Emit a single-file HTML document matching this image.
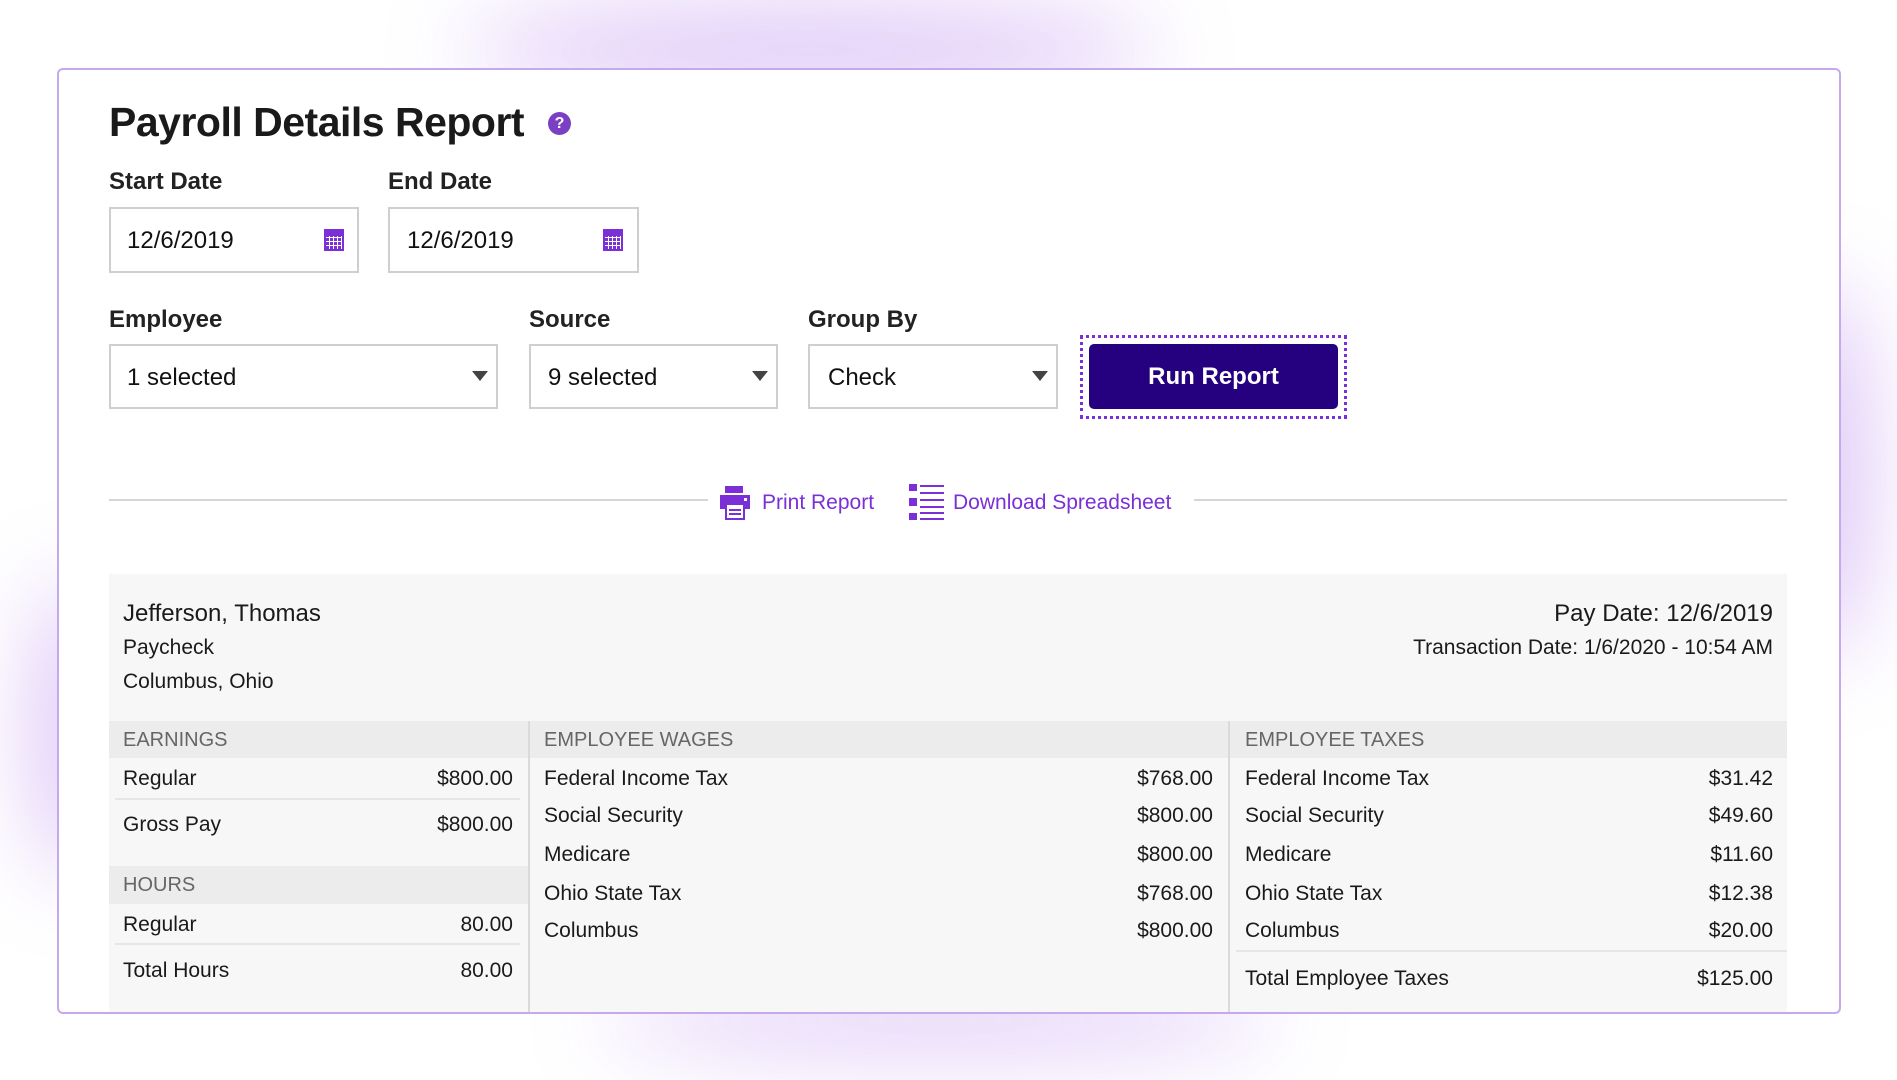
<!DOCTYPE html>
<html><head><meta charset="utf-8"><style>
*{margin:0;padding:0;box-sizing:border-box}
body{width:1897px;height:1080px;background:#fff;position:relative;overflow:hidden;font-family:"Liberation Sans",Arial,sans-serif;color:#1a1a1a}
.glow{position:absolute;border-radius:50%;filter:blur(45px);opacity:.75}
.card{position:absolute;left:57px;top:68px;width:1784px;height:946px;background:#fff;border:2px solid #c4a9ee;border-radius:6px;overflow:hidden}
.a{position:absolute;white-space:nowrap}
.box{position:absolute;border:2px solid #cfcfcf;background:#fff}
.lbl{font-weight:bold;font-size:24px;color:#222}
.val{font-size:24px;color:#111}
.tri{position:absolute;width:0;height:0;border-left:8px solid transparent;border-right:8px solid transparent;border-top:10px solid #444}
.cal{position:absolute;width:20px;height:22px;background:#7b2fd6}
.cal:after{content:"";position:absolute;left:2px;top:7px;width:16px;height:13px;background:repeating-linear-gradient(90deg,transparent 0 3px,#fff 3px 4px),repeating-linear-gradient(0deg,transparent 0 3px,#fff 3px 4px)}
.t{font-size:21px;color:#1a1a1a}
.h{font-size:20px;color:#666}
.r{text-align:right}
</style></head><body>
<div class="glow" style="left:460px;top:15px;width:700px;height:70px;background:#c9a3f2"></div>
<div class="glow" style="left:1780px;top:280px;width:80px;height:380px;background:#c9a3f2"></div>
<div class="glow" style="left:40px;top:580px;width:70px;height:300px;background:#c9a3f2"></div>
<div class="glow" style="left:600px;top:995px;width:680px;height:50px;background:#c9a3f2"></div>
<div class="card">
<div style="position:absolute;left:-59px;top:-70px;width:1897px;height:1080px">
<div class="a" style="left:109px;top:99px;font-size:41px;font-weight:bold;color:#1a1a1a;letter-spacing:-0.5px">Payroll Details Report</div>
<div class="a" style="left:548px;top:112px;width:23px;height:23px;border-radius:50%;background:#7b3fc4;color:#fff;font-size:16px;font-weight:bold;text-align:center;line-height:23px">?</div>

<div class="a lbl" style="left:109px;top:168px">Start Date</div>
<div class="a lbl" style="left:388px;top:168px">End Date</div>
<div class="box" style="left:109px;top:207px;width:250px;height:66px"></div>
<div class="a val" style="left:127px;top:227px">12/6/2019</div>
<div class="cal" style="left:324px;top:229px"></div>
<div class="box" style="left:388px;top:207px;width:251px;height:66px"></div>
<div class="a val" style="left:407px;top:227px">12/6/2019</div>
<div class="cal" style="left:603px;top:229px"></div>

<div class="a lbl" style="left:109px;top:306px">Employee</div>
<div class="a lbl" style="left:529px;top:306px">Source</div>
<div class="a lbl" style="left:808px;top:306px">Group By</div>
<div class="box" style="left:109px;top:344px;width:389px;height:65px"></div>
<div class="a val" style="left:127px;top:364px">1 selected</div>
<div class="tri" style="left:472px;top:371px"></div>
<div class="box" style="left:529px;top:344px;width:249px;height:65px"></div>
<div class="a val" style="left:548px;top:364px">9 selected</div>
<div class="tri" style="left:752px;top:371px"></div>
<div class="box" style="left:808px;top:344px;width:250px;height:65px"></div>
<div class="a val" style="left:828px;top:364px">Check</div>
<div class="tri" style="left:1032px;top:371px"></div>
<div class="a" style="left:1080px;top:335px;width:267px;height:84px;border:3px dotted #7b2fd6"></div>
<div class="a" style="left:1089px;top:344px;width:249px;height:65px;background:#25007f;border-radius:5px;color:#fff;font-weight:bold;font-size:24px;text-align:center;line-height:65px">Run Report</div>

<div class="a" style="left:109px;top:499px;width:599px;height:2px;background:#d6d6d6"></div>
<div class="a" style="left:1194px;top:499px;width:593px;height:2px;background:#d6d6d6"></div>
<svg class="a" style="left:719px;top:486px" width="32" height="34" viewBox="0 0 32 34"><rect x="6" y="0" width="18" height="7" fill="#7b2fd6"/><rect x="1" y="9" width="30" height="14" fill="#7b2fd6"/><rect x="25" y="12" width="3" height="3" fill="#fff"/><rect x="7" y="18" width="18" height="15" fill="#fff" stroke="#7b2fd6" stroke-width="2"/><line x1="10" y1="24" x2="22" y2="24" stroke="#7b2fd6" stroke-width="2"/><line x1="10" y1="28" x2="22" y2="28" stroke="#7b2fd6" stroke-width="2"/></svg>
<div class="a" style="left:762px;top:491px;font-size:21px;color:#7b2fd6">Print Report</div>
<svg class="a" style="left:909px;top:484px" width="36" height="36" viewBox="0 0 36 36"><g fill="#7b2fd6"><rect x="0" y="0" width="8" height="7"/><rect x="0" y="14" width="8" height="8"/><rect x="0" y="29" width="8" height="7"/><rect x="11" y="1" width="24" height="2"/><rect x="11" y="8" width="24" height="2"/><rect x="11" y="15" width="24" height="2"/><rect x="11" y="22" width="24" height="2"/><rect x="11" y="28" width="24" height="2"/><rect x="11" y="34" width="24" height="2"/></g></svg>
<div class="a" style="left:953px;top:491px;font-size:21px;color:#7b2fd6">Download Spreadsheet</div>

<div class="a" style="left:109px;top:574px;width:1678px;height:520px;background:#f7f7f7"></div>
<div class="a" style="left:123px;top:600px;font-size:24px">Jefferson, Thomas</div>
<div class="a t" style="left:123px;top:636px">Paycheck</div>
<div class="a t" style="left:123px;top:670px">Columbus, Ohio</div>
<div class="a r" style="right:124px;top:600px;font-size:24px">Pay Date: 12/6/2019</div>
<div class="a r t" style="right:124px;top:636px">Transaction Date: 1/6/2020 - 10:54 AM</div>

<div class="a" style="left:109px;top:721px;width:1678px;height:37px;background:#ececec"></div>
<div class="a" style="left:109px;top:866px;width:420px;height:38px;background:#ececec"></div>
<div class="a" style="left:528px;top:721px;width:2px;height:320px;background:#dadada"></div>
<div class="a" style="left:1228px;top:721px;width:2px;height:320px;background:#dadada"></div>

<div class="a h" style="left:123px;top:729px">EARNINGS</div>
<div class="a h" style="left:544px;top:729px">EMPLOYEE WAGES</div>
<div class="a h" style="left:1245px;top:729px">EMPLOYEE TAXES</div>

<div class="a t" style="left:123px;top:767px">Regular</div><div class="a t r" style="right:1384px;top:767px">$800.00</div>
<div class="a" style="left:115px;top:798px;width:405px;height:2px;background:#e6e6e6"></div>
<div class="a t" style="left:123px;top:813px">Gross Pay</div><div class="a t r" style="right:1384px;top:813px">$800.00</div>
<div class="a h" style="left:123px;top:874px">HOURS</div>
<div class="a t" style="left:123px;top:913px">Regular</div><div class="a t r" style="right:1384px;top:913px">80.00</div>
<div class="a" style="left:115px;top:943px;width:405px;height:2px;background:#e6e6e6"></div>
<div class="a t" style="left:123px;top:959px">Total Hours</div><div class="a t r" style="right:1384px;top:959px">80.00</div>

<div class="a t" style="left:544px;top:767px">Federal Income Tax</div><div class="a t r" style="right:684px;top:767px">$768.00</div>
<div class="a t" style="left:544px;top:804px">Social Security</div><div class="a t r" style="right:684px;top:804px">$800.00</div>
<div class="a t" style="left:544px;top:843px">Medicare</div><div class="a t r" style="right:684px;top:843px">$800.00</div>
<div class="a t" style="left:544px;top:882px">Ohio State Tax</div><div class="a t r" style="right:684px;top:882px">$768.00</div>
<div class="a t" style="left:544px;top:919px">Columbus</div><div class="a t r" style="right:684px;top:919px">$800.00</div>

<div class="a t" style="left:1245px;top:767px">Federal Income Tax</div><div class="a t r" style="right:124px;top:767px">$31.42</div>
<div class="a t" style="left:1245px;top:804px">Social Security</div><div class="a t r" style="right:124px;top:804px">$49.60</div>
<div class="a t" style="left:1245px;top:843px">Medicare</div><div class="a t r" style="right:124px;top:843px">$11.60</div>
<div class="a t" style="left:1245px;top:882px">Ohio State Tax</div><div class="a t r" style="right:124px;top:882px">$12.38</div>
<div class="a t" style="left:1245px;top:919px">Columbus</div><div class="a t r" style="right:124px;top:919px">$20.00</div>
<div class="a" style="left:1236px;top:950px;width:551px;height:2px;background:#e6e6e6"></div>
<div class="a t" style="left:1245px;top:967px">Total Employee Taxes</div><div class="a t r" style="right:124px;top:967px">$125.00</div>
</div>
</div>
</body></html>
